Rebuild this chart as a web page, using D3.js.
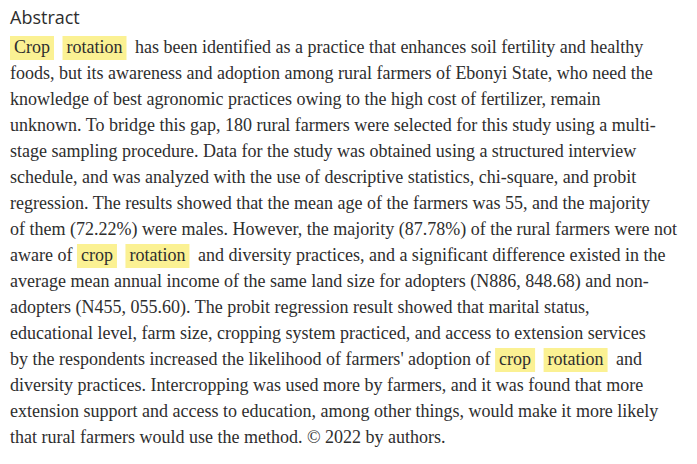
<!DOCTYPE html>
<html>
<head>
<meta charset="utf-8">
<script src="https://cdn.jsdelivr.net/npm/d3@7"></script>
<style>
body { margin: 0; background: #fff; }
</style>
</head>
<body>
<svg id="chart" width="697" height="464"></svg>
<script>
	// each line is text; {...} marks a highlighted word
	var title = "Abstract";
	var lines = [
		"{Crop} {rotation} has been identified as a practice that enhances soil fertility and healthy",
		"foods, but its awareness and adoption among rural farmers of Ebonyi State, who need the",
		"knowledge of best agronomic practices owing to the high cost of fertilizer, remain",
		"unknown. To bridge this gap, 180 rural farmers were selected for this study using a multi-",
		"stage sampling procedure. Data for the study was obtained using a structured interview",
		"schedule, and was analyzed with the use of descriptive statistics, chi-square, and probit",
		"regression. The results showed that the mean age of the farmers was 55, and the majority",
		"of them (72.22%) were males. However, the majority (87.78%) of the rural farmers were not",
		"aware of {crop} {rotation} and diversity practices, and a significant difference existed in the",
		"average mean annual income of the same land size for adopters (N886, 848.68) and non-",
		"adopters (N455, 055.60). The probit regression result showed that marital status,",
		"educational level, farm size, cropping system practiced, and access to extension services",
		"by the respondents increased the likelihood of farmers' adoption of {crop} {rotation} and",
		"diversity practices. Intercropping was used more by farmers, and it was found that more",
		"extension support and access to education, among other things, would make it more likely",
		"that rural farmers would use the method. © 2022 by authors."
	];
	var serif = "'Liberation Serif', 'DejaVu Serif', serif";
	var svg = d3.select("#chart");
	svg.append("text").attr("x", 10).attr("y", 24)
		.attr("font-family", "'Open Sans', 'Noto Sans', sans-serif").attr("font-size", 18)
		.attr("fill", "#2e2e2e").text(title);

	var y = d3.scaleLinear().domain([0, lines.length - 1]).range([53, 443]);
	var hl = svg.append("g"), tg = svg.append("g");
	lines.forEach(function(line, i) {
		var parts = line.split(/(\{[^}]*\})/).filter(function(s) { return s.length; });
		var x = 10;
		parts.forEach(function(p) {
			var isHl = p[0] == "{";
			var s = isHl ? p.slice(1, -1) : p;
			var pad = isHl ? 4 : 0;
			var t = tg.append("text").attr("x", x + pad).attr("y", y(i))
				.attr("font-family", serif).attr("font-size", 18).attr("fill", "#2e2e2e")
				.style("white-space", "pre").text(s);
			var w = t.node().getComputedTextLength();
			if (isHl) {
				hl.append("rect").attr("x", x).attr("y", y(i) - 17)
					.attr("width", w + 2 * pad).attr("height", 24).attr("fill", "#fbf193");
				x += w + 2 * pad + 4;
			} else {
				x += w;
			}
		});
	});
</script>
</body>
</html>
